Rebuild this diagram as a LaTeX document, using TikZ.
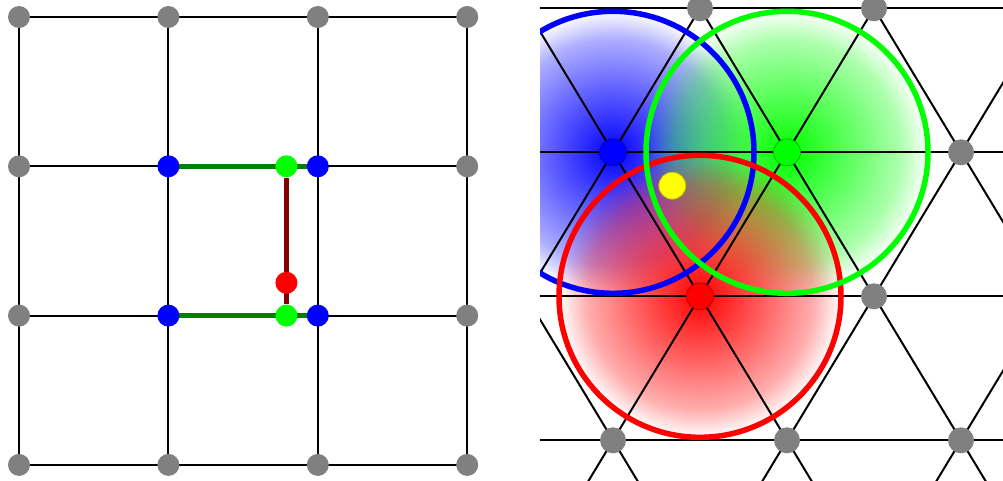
\documentclass[tikz,border=0pt]{standalone}
\usepackage{tikz}
\usetikzlibrary{calc,fadings}
\definecolor{pblue}{HTML}{0000FF}
\definecolor{pgreen}{HTML}{00FF00}
\definecolor{pred}{HTML}{FF0000}
\definecolor{pgray}{HTML}{808080}
\definecolor{pyellow}{HTML}{FFFF00}
\definecolor{dgreen}{HTML}{008000}
\definecolor{dred}{HTML}{800000}
% soft radial glow: opaque at the centre, gone at the rim
\pgfdeclareradialshading{glowshade}{\pgfpointorigin}{color(0bp)=(white);
  color(12.5bp)=(white!58!black); color(20bp)=(white!32!black);
  color(25bp)=(black); color(50bp)=(black)}
\pgfdeclarefading{glow}{\pgfuseshading{glowshade}}
\tikzset{
  edge/.style    = {line width=2pt, black},
  site/.style    = {circle, fill=#1, inner sep=0pt, minimum size=22pt},
  site/.default  = pgray,
  lsite/.style   = {circle, fill=#1, inner sep=0pt, minimum size=26pt},
  lsite/.default = pgray,
  bigsite/.style = {circle, fill=#1, draw=#1!75!black, line width=0.8pt,
                    inner sep=0pt, minimum size=27pt},
  hop/.style     = {line width=4.5pt, #1},
  ring/.style    = {draw=#1, line width=5.5pt},
  halo/.style    = {fill=#1, path fading=glow},
}

\begin{document}
\begin{tikzpicture}[x=1pt,y=-1pt]
\useasboundingbox (0,0) rectangle (1003,480);
% square grid
\foreach \i in {0,...,3} \foreach \j in {0,...,3}
  \coordinate (g\i\j) at ({19+149.4*\i},{17+149.3*\j});
\foreach \k in {0,...,3} {
  \draw[edge] (g0\k) -- (g3\k);
  \draw[edge] (g\k0) -- (g\k3);
}
\draw[hop=dgreen] (g11) -- (g21);
\draw[hop=dgreen] (g12) -- (g22);
\node[site=pgreen] (sa) at ($(g11)!0.79!(g21)$) {};
\node[site=pgreen] (sb) at ($(g12)!0.79!(g22)$) {};
\draw[hop=dred] (sa) -- (sb);
\node[site=pred] (sr) at ($(sa)!0.78!(sb)$) {};
\foreach \i/\j in {0/0,1/0,2/0,3/0,0/1,3/1,0/2,3/2,0/3,1/3,2/3,3/3}
  \node[site] (n\i\j) at (g\i\j) {};
\foreach \i/\j in {1/1,2/1,1/2,2/2}
  \node[site=pblue] (n\i\j) at (g\i\j) {};
% triangular lattice
\begin{scope}
\clip (540,0) rectangle (1003,480);
\foreach \i in {-6,...,8} \foreach \j in {-2,...,3}
  \coordinate (t\i-\j) at ({613+174*\i+87*\j},{152.3+144*\j});
\fill[halo=pblue] (t0-0) circle [radius=141pt];
\fill[halo=pgreen] (t1-0) circle [radius=141pt];
\fill[halo=pred] (t0-1) circle [radius=141pt];
\foreach \j in {-1,...,2} \draw[edge] (t-6-\j) -- (t6-\j);
\foreach \i in {-3,...,4} \draw[edge] (t\i--2) -- (t\i-3);
\foreach \i [evaluate=\i as \k using int(\i-5)] in {-1,...,8}
  \draw[edge] (t\i--2) -- (t\k-3);
\draw[ring=pblue] (t0-0) circle [radius=141pt];
\draw[ring=pred] (t0-1) circle [radius=141pt];
\draw[ring=pgreen] (t1-0) circle [radius=141pt];
\foreach \i/\j in {1/-1,2/-1,2/0,1/1,-1/2,0/2,1/2}
  \node[lsite] (v\i-\j) at (t\i-\j) {};
\node[bigsite=pblue] (vb) at (t0-0) {};
\node[bigsite=pgreen] (vg) at (t1-0) {};
\node[bigsite=pred] (vr) at (t0-1) {};
\node[bigsite=pyellow] (probe) at (672.3,185.7) {};
\end{scope}
\end{tikzpicture}
\end{document}
